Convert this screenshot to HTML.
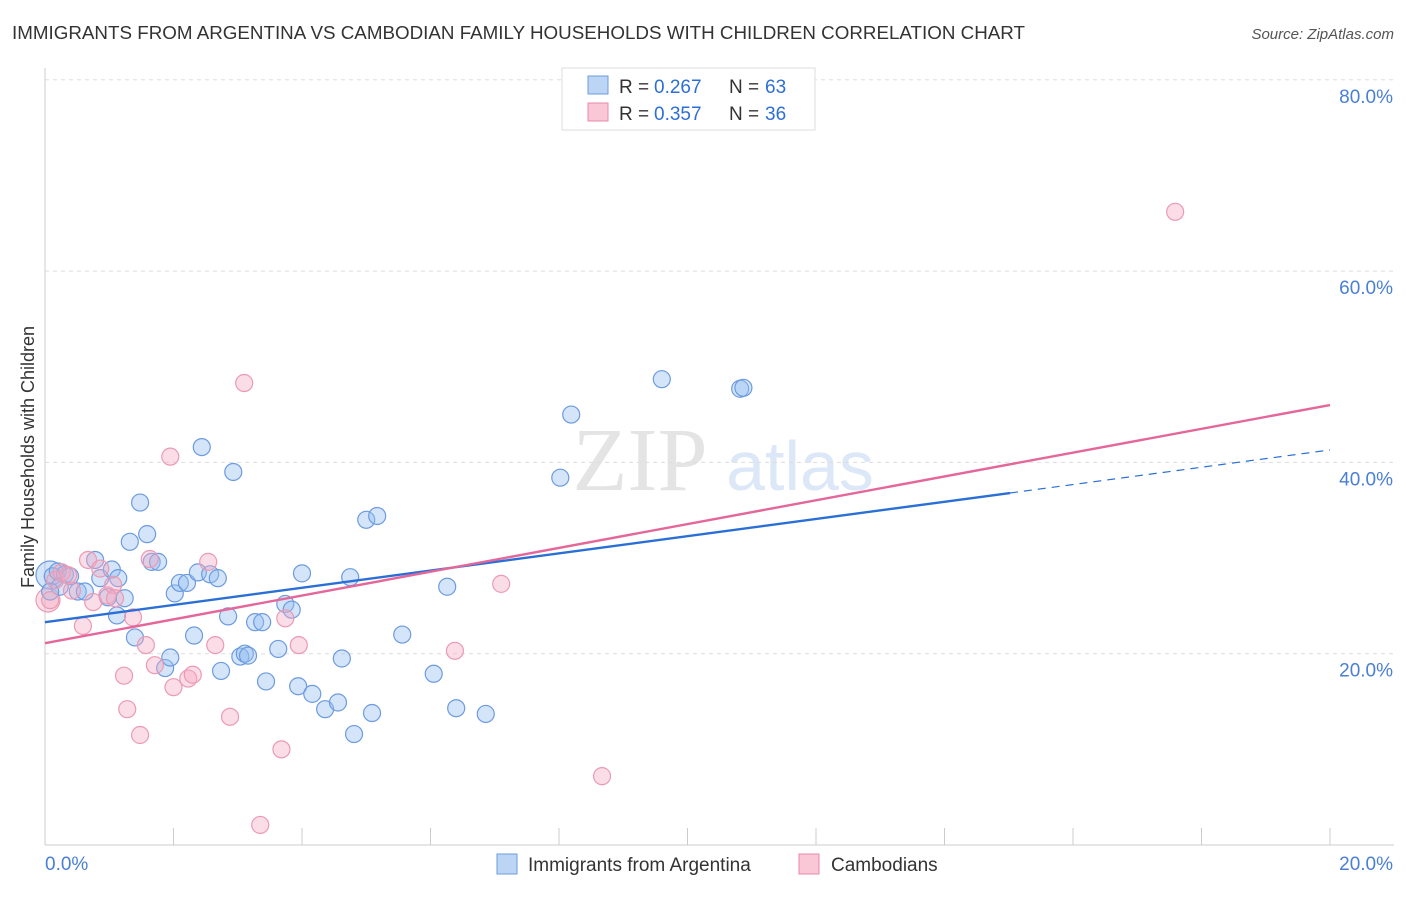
<!DOCTYPE html>
<html><head><meta charset="utf-8"><style>
body{margin:0;background:#fff;font-family:"Liberation Sans",sans-serif;}
</style></head><body>
<svg width="1406" height="892" xmlns="http://www.w3.org/2000/svg" id="svg">
<text x="12" y="39" font-size="18" fill="#333" textLength="1013" lengthAdjust="spacingAndGlyphs">IMMIGRANTS FROM ARGENTINA VS CAMBODIAN FAMILY HOUSEHOLDS WITH CHILDREN CORRELATION CHART</text>
<text x="1394" y="39" font-size="15" fill="#555" text-anchor="end" font-style="italic">Source: ZipAtlas.com</text>
<text x="640" y="490" font-size="90" fill="#e4e4e4" font-family="Liberation Serif" text-anchor="middle">ZIP</text>
<text x="800" y="490" font-size="70" fill="#dce8f7" text-anchor="middle">atlas</text>
<text transform="translate(34,457) rotate(-90)" font-size="18" fill="#333" text-anchor="middle">Family Households with Children</text>
<g id="grid"></g><g id="pts"></g><g id="lines"></g>
<g>
<rect x="562" y="68" width="253" height="62" fill="#fff" stroke="#ddd"/>
<rect x="588" y="76" width="20" height="18" fill="#bcd5f5" stroke="#6d9be0"/>
<rect x="588" y="103" width="20" height="18" fill="#f9c7d6" stroke="#e88aa8"/>
<text x="619" y="93" font-size="19" fill="#333">R =</text><text x="654" y="93" font-size="19" fill="#2e6fd6">0.267</text>
<text x="729" y="93" font-size="19" fill="#333">N =</text><text x="765" y="93" font-size="19" fill="#2e6fd6">63</text>
<text x="619" y="120" font-size="19" fill="#333">R =</text><text x="654" y="120" font-size="19" fill="#2e6fd6">0.357</text>
<text x="729" y="120" font-size="19" fill="#333">N =</text><text x="765" y="120" font-size="19" fill="#2e6fd6">36</text>
</g>
<g>
<rect x="497" y="854" width="20" height="20" fill="#bcd5f5" stroke="#6d9be0"/>
<text x="528" y="871" font-size="19" fill="#333">Immigrants from Argentina</text>
<rect x="799" y="854" width="20" height="20" fill="#f9c7d6" stroke="#e88aa8"/>
<text x="831" y="871" font-size="19" fill="#333">Cambodians</text>
</g>
</svg>
<script>
const blueX=[0.12,0.2,0.31,0.39,0.23,0.08,0.51,0.62,0.78,0.86,1.04,1.14,0.98,1.24,1.12,1.32,1.48,1.59,1.66,1.76,1.4,1.87,1.95,2.02,2.1,2.21,2.32,2.38,2.44,2.57,2.69,2.74,2.85,2.93,3.04,3.11,3.16,3.27,3.38,3.44,3.63,3.74,3.84,3.94,4.0,4.16,4.36,4.56,4.62,4.75,4.81,5.0,5.09,5.17,5.56,6.05,6.26,6.4,6.86,8.02,8.19,9.6,10.82,10.87];
const blueY=[28.1,28.6,28.3,28.1,27.0,26.5,26.5,26.5,29.8,27.9,28.8,27.9,25.9,25.8,24.0,31.7,35.8,32.5,29.6,29.6,21.7,18.5,19.6,26.3,27.4,27.4,21.9,28.5,41.6,28.3,27.9,18.2,23.9,39.0,19.7,20.0,19.8,23.3,23.3,17.1,20.5,25.2,24.6,16.6,28.4,15.8,14.2,14.9,19.5,28.0,11.6,34.0,13.8,34.4,22.0,17.9,27.0,14.3,13.7,38.4,45.0,48.7,47.7,47.8];
const pinkX=[0.08,0.16,0.26,0.36,0.42,0.59,0.67,0.75,0.86,0.97,1.06,1.09,1.23,1.28,1.37,1.48,1.57,1.63,1.71,1.95,2.0,2.23,2.3,2.54,2.65,2.88,3.1,3.35,3.68,3.74,3.95,6.38,7.1,8.67,17.59];
const pinkY=[25.6,27.7,28.5,28.2,26.6,22.9,29.8,25.4,28.9,26.1,27.2,25.8,17.7,14.2,23.8,11.5,20.9,29.9,18.8,40.6,16.5,17.4,17.8,29.6,20.9,13.4,48.3,2.1,10.0,23.7,20.9,20.3,27.3,7.2,66.2];
const yTicks=[20,40,60,80];
const blueLine=[[0,23.3],[15.02,36.8]], blueDash=[[15.02,36.8],[20,41.3]];
const pinkLine=[[0,21.1],[20,46.0]];
const NS="http://www.w3.org/2000/svg";
const sx=v=>45+v/20*1285, sy=v=>845-v*9.565;
function mk(t,a,p){const e=document.createElementNS(NS,t);for(const k in a)e.setAttribute(k,a[k]);document.getElementById(p).appendChild(e);return e;}
let ax=mk('line',{x1:45,y1:68,x2:45,y2:845,stroke:'#ccc'},'grid');


let bx=mk('line',{x1:45,y1:845,x2:1394,y2:845,stroke:'#ccc'},'grid');


for(let i=0;i<=10;i++){let t=mk('line',{x1:45+i*128.5,y1:828,x2:45+i*128.5,y2:845,stroke:'#ccc'},'grid');

}
yTicks.forEach(v=>{let g=mk('line',{x1:45,y1:sy(v),x2:1394,y2:sy(v),stroke:'#ddd','stroke-dasharray':'4,4'},'grid');


let t=mk('text',{x:1393,y:sy(v)+23,'font-size':19,fill:'#4a7fd6','text-anchor':'end'},'grid');t.textContent=v.toFixed(1)+'%';

});
let x0=mk('text',{x:45,y:870,'font-size':19,fill:'#4a7fd6'},'grid');x0.textContent='0.0%';


let x1=mk('text',{x:1393,y:870,'font-size':19,fill:'#4a7fd6','text-anchor':'end'},'grid');x1.textContent='20.0%';


[[50,575,14,'b'],[48,600,12,'p']].forEach(c=>{let e=mk('circle',{cx:c[0],cy:c[1],r:c[2],fill:c[3]=='b'?'rgba(147,190,240,0.4)':'rgba(245,170,195,0.4)',stroke:c[3]=='b'?'#6d9be0':'#ec9ab4','stroke-width':1.2},'pts');

});
blueX.forEach((v,i)=>{let e=mk('circle',{cx:sx(v),cy:sy(blueY[i]),r:8.5,fill:'rgba(147,190,240,0.4)',stroke:'#6d9be0','stroke-width':1.2},'pts');

});
pinkX.forEach((v,i)=>{let e=mk('circle',{cx:sx(v),cy:sy(pinkY[i]),r:8.5,fill:'rgba(245,170,195,0.4)',stroke:'#ec9ab4','stroke-width':1.2},'pts');

});
function ln(d,c,dash,name){let e=mk('line',{x1:sx(d[0][0]),y1:sy(d[0][1]),x2:sx(d[1][0]),y2:sy(d[1][1]),stroke:c,'stroke-width':dash?1.2:2.4,'stroke-dasharray':dash?'8,6':'none'},'lines');

}
ln(blueLine,'#2a6fd6',false,'argentina-trendline');
ln(blueDash,'#2a6fd6',true,'argentina-trendline-extension');
ln(pinkLine,'#e5679a',false,'cambodian-trendline');
</script>
</body></html>
